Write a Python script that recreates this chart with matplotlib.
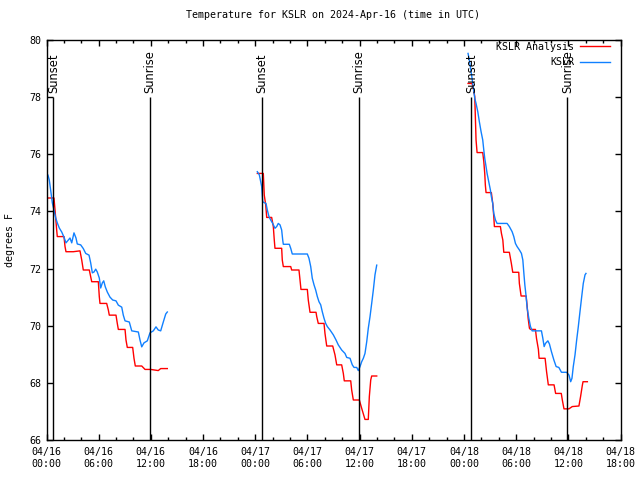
import matplotlib
matplotlib.use("Agg")
import matplotlib.pyplot as plt
from matplotlib.ticker import MultipleLocator

# ---- data (hours since 2024-04-16 00:00 UTC) ----
obs_t1 = [0.17, 0.32, 0.52, 0.67, 0.86, 1.06, 1.24, 1.47, 1.75, 2.01, 2.24, 2.51, 2.70, 2.90,
          3.16, 3.39, 3.54, 3.93, 4.23, 4.51, 4.89, 5.08, 5.27, 5.46, 5.66, 5.84, 6.07, 6.23,
          6.42, 6.58, 6.76, 6.99, 7.30, 7.61, 7.99, 8.26, 8.65, 8.83, 9.03, 9.52, 9.80, 10.56,
          10.75, 10.95, 11.21, 11.59, 11.90, 12.28, 12.59, 12.85, 13.13, 13.43, 13.71, 13.89]
obs_v1 = [75.27, 75.1, 74.65, 74.3, 74.05, 73.77, 73.6, 73.42, 73.28, 73.1, 72.9, 73.0, 73.07,
          72.9, 73.25, 73.07, 72.86, 72.83, 72.7, 72.53, 72.47, 72.2, 71.85, 71.88, 71.98, 71.88,
          71.67, 71.32, 71.5, 71.57, 71.36, 71.18, 71.0, 70.9, 70.87, 70.72, 70.65, 70.37, 70.17,
          70.13, 69.82, 69.78, 69.5, 69.26, 69.4, 69.47, 69.75, 69.82, 69.96, 69.85, 69.82, 70.13,
          70.41, 70.48]

ana_t1 = [0.17, 0.86, 0.98, 1.17, 1.24, 2.01, 2.13, 2.24, 3.08, 3.85, 4.05, 4.23, 4.92, 5.20,
          5.96, 6.07, 6.15, 6.92, 7.11, 7.22, 7.99, 8.14, 8.26, 9.03, 9.14, 9.29, 9.91, 10.06,
          10.21, 10.95, 11.33, 11.98, 12.85, 13.13, 13.89]
ana_v1 = [74.47, 74.47, 74.05, 73.35, 73.12, 73.12, 72.77, 72.59, 72.59, 72.62, 72.3, 71.95,
          71.95, 71.54, 71.54, 71.02, 70.78, 70.78, 70.55, 70.37, 70.37, 70.08, 69.87, 69.87,
          69.5, 69.24, 69.24, 68.86, 68.59, 68.59, 68.47, 68.47, 68.43, 68.5, 68.5]

obs_t2 = [24.24, 24.47, 24.63, 24.74, 24.86, 25.01, 25.24, 25.39, 25.58, 25.78, 26.01, 26.27,
          26.47, 26.65, 26.85, 27.04, 27.16, 27.23, 27.92, 28.08, 28.26, 29.99, 30.18, 30.38,
          30.56, 30.76, 30.95, 31.14, 31.33, 31.53, 31.71, 31.91, 32.10, 32.29, 32.60, 32.98,
          33.29, 33.55, 33.94, 34.32, 34.52, 34.90, 35.16, 35.36, 35.67, 35.85, 36.05, 36.24,
          36.43, 36.62, 36.82, 37.00, 37.20, 37.39, 37.58, 37.77, 37.97]
obs_v2 = [75.39, 75.28, 75.04, 74.87, 74.34, 74.31, 74.28, 74.05, 73.82, 73.7, 73.58, 73.41,
          73.47, 73.58, 73.53, 73.35, 73.0, 72.85, 72.85, 72.71, 72.51, 72.51, 72.36, 72.07,
          71.66, 71.43, 71.25, 71.02, 70.84, 70.73, 70.49, 70.26, 70.08, 69.97, 69.85, 69.68,
          69.5, 69.33, 69.15, 69.03, 68.89, 68.86, 68.63, 68.54, 68.54, 68.43, 68.57, 68.74,
          68.86, 69.03, 69.44, 69.91, 70.32, 70.78, 71.25, 71.78, 72.12]

ana_t2 = [24.24, 24.93, 25.04, 25.21, 25.32, 25.89, 26.08, 26.19, 26.27, 27.04, 27.11, 27.23,
          28.08, 28.19, 29.03, 29.15, 29.26, 29.99, 30.10, 30.30, 30.99, 31.07, 31.25, 31.91,
          32.02, 32.22, 32.91, 33.17, 33.37, 33.94, 34.13, 34.24, 34.98, 35.09, 35.28, 35.97,
          36.24, 36.62, 37.00, 37.12, 37.28, 37.39, 37.97]
ana_v2 = [75.33, 75.33, 74.57, 74.22, 73.79, 73.79, 73.47, 73.0, 72.71, 72.71, 72.3, 72.07,
          72.07, 71.95, 71.95, 71.6, 71.27, 71.27, 70.9, 70.47, 70.47, 70.32, 70.08, 70.08,
          69.73, 69.29, 69.29, 68.98, 68.63, 68.63, 68.33, 68.07, 68.07, 67.75, 67.4, 67.4,
          67.11, 66.72, 66.72, 67.52, 68.1, 68.24, 68.24]

obs_t3 = [48.47, 48.62, 48.73, 48.85, 49.01, 49.12, 49.24, 49.39, 49.59, 49.77, 49.97, 50.16,
          50.28, 50.39, 50.54, 50.66, 50.85, 51.04, 51.15, 51.31, 51.43, 51.62, 51.81, 52.96,
          53.22, 53.54, 53.73, 53.92, 54.11, 54.38, 54.61, 54.77, 54.89, 55.00, 55.15, 55.27,
          55.46, 55.65, 55.84, 56.91, 57.07, 57.22, 57.37, 57.65, 57.83, 58.06, 58.34, 58.60,
          58.91, 59.21, 59.81, 60.08, 60.27, 60.42, 60.57, 60.77, 60.96, 61.15, 61.34, 61.54,
          61.72, 61.92, 62.03]
obs_v3 = [79.53, 79.3, 79.07, 78.83, 78.48, 78.25, 77.96, 77.78, 77.49, 77.14, 76.79, 76.5,
          76.15, 75.86, 75.57, 75.33, 75.04, 74.75, 74.52, 74.28, 73.93, 73.7, 73.58, 73.58,
          73.47, 73.29, 73.12, 72.88, 72.77, 72.65, 72.53, 72.3, 71.83, 71.43, 71.02, 70.61,
          70.26, 69.97, 69.82, 69.82, 69.56, 69.27, 69.38, 69.47, 69.36, 69.09, 68.8, 68.57,
          68.54, 68.37, 68.37, 68.27, 68.04, 68.16, 68.57, 68.98, 69.5, 69.97, 70.49, 71.02,
          71.48, 71.78, 71.83]

ana_t3 = [48.47, 48.93, 49.12, 49.24, 49.31, 49.39, 49.51, 50.16, 50.28, 50.39, 50.46, 50.54,
          51.15, 51.31, 51.43, 51.50, 52.19, 52.31, 52.47, 52.58, 53.22, 53.45, 53.61, 54.30,
          54.37, 54.57, 55.15, 55.27, 55.38, 55.53, 55.65, 56.22, 56.34, 56.56, 56.64, 57.33,
          57.50, 57.70, 58.36, 58.54, 59.19, 59.31, 59.50, 60.07, 60.45, 61.22, 61.41, 61.61,
          61.69, 62.19]
ana_v3 = [78.48, 78.48, 78.25, 78.02, 77.32, 76.5, 76.06, 76.06, 75.75, 75.33, 74.92, 74.66,
          74.66, 74.28, 73.82, 73.47, 73.47, 73.23, 73.0, 72.57, 72.57, 72.18, 71.87, 71.87,
          71.48, 71.04, 71.04, 70.67, 70.26, 69.91, 69.87, 69.87, 69.56, 69.17, 68.86, 68.86,
          68.39, 67.93, 67.93, 67.63, 67.63, 67.4, 67.09, 67.09, 67.17, 67.19, 67.52, 67.91,
          68.04, 68.04]

sun_times = [0.8, 11.9, 24.8, 35.95, 48.85, 59.9]
sun_labels = ["Sunset", "Sunrise", "Sunset", "Sunrise", "Sunset", "Sunrise"]

tick_hours = [0, 6, 12, 18, 24, 30, 36, 42, 48, 54, 60, 66]
tick_labels = ["04/16\n00:00", "04/16\n06:00", "04/16\n12:00", "04/16\n18:00",
               "04/17\n00:00", "04/17\n06:00", "04/17\n12:00", "04/17\n18:00",
               "04/18\n00:00", "04/18\n06:00", "04/18\n12:00", "04/18\n18:00"]
y_ticks = [66, 68, 70, 72, 74, 76, 78, 80]

# ---- style ----
RED = "#ff0000"
BLUE = "#1080ff"
FS = 7.2
MONO = ["DejaVu Sans Mono"]
plt.rcParams["font.family"] = MONO

fig = plt.figure(figsize=(6.4, 4.8), dpi=100)
ax = fig.add_axes([46.5 / 640, 40 / 480, 574 / 640, 400 / 480])

for i, (t, v) in enumerate([(ana_t1, ana_v1), (ana_t2, ana_v2), (ana_t3, ana_v3)]):
    ax.plot(t, v, color=RED, lw=1.0, label="KSLR Analysis" if i == 0 else None)
for i, (t, v) in enumerate([(obs_t1, obs_v1), (obs_t2, obs_v2), (obs_t3, obs_v3)]):
    ax.plot(t, v, color=BLUE, lw=1.0, label="KSLR" if i == 0 else None)

for st, sl in zip(sun_times, sun_labels):
    ax.vlines(st, 66, 78.0, color="black", lw=1.0)
    ax.text(st, 78.15, sl, rotation=90, ha="center", va="bottom", fontsize=8.3,
            family=["DejaVu Sans"])

ax.set_xlim(0, 66)
ax.set_ylim(66, 80)
ax.set_xticks(tick_hours)
ax.set_xticklabels(tick_labels, fontsize=FS, linespacing=1.25)
ax.xaxis.set_minor_locator(MultipleLocator(2))
ax.set_yticks(y_ticks)
ax.set_yticklabels([str(v) for v in y_ticks], fontsize=FS)
ax.tick_params(axis="both", which="both", direction="in", top=True, right=True,
               width=1.0, color="black")
ax.tick_params(axis="x", which="major", length=4, pad=5)
ax.tick_params(axis="x", which="minor", length=2)
ax.tick_params(axis="y", which="major", length=4, pad=4)
for s in ax.spines.values():
    s.set_linewidth(1.0)

ax.set_ylabel("degrees F", fontsize=FS, labelpad=10)
ax.set_title("Temperature for KSLR on 2024-Apr-16 (time in UTC)", fontsize=FS, pad=16)

leg = ax.legend(loc="upper right", bbox_to_anchor=(0.985, 1.0), frameon=False,
                markerfirst=False, fontsize=FS, handlelength=3.0, handletextpad=0.6,
                labelspacing=0.55, borderpad=0.2, borderaxespad=0.0)

fig.savefig("out.png", dpi=100)
